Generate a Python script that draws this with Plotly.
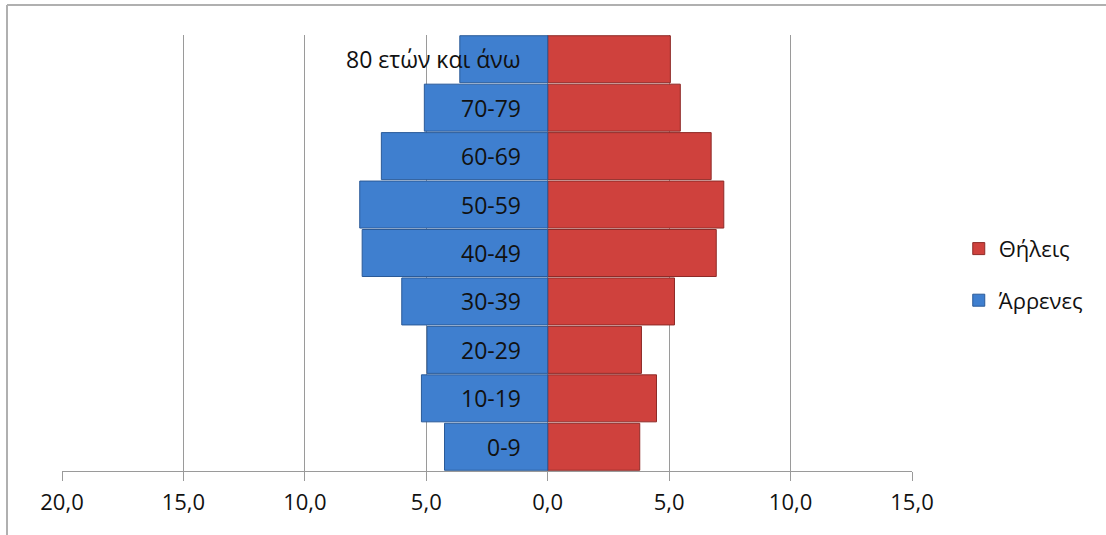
import plotly.graph_objects as go

categories = ["0-9", "10-19", "20-29", "30-39", "40-49", "50-59", "60-69", "70-79", "80 ετών και άνω"]
males = [4.25, 5.20, 4.97, 6.01, 7.64, 7.74, 6.85, 5.08, 3.62]
females = [3.79, 4.48, 3.86, 5.22, 6.94, 7.25, 6.73, 5.46, 5.05]
tick_vals = [-20, -15, -10, -5, 0, 5, 10, 15]
tick_text = ["20,0", "15,0", "10,0", "5,0", "0,0", "5,0", "10,0", "15,0"]

FONT = "Open Sans"

fig = go.Figure()
fig.add_trace(go.Bar(
    y=categories, x=females, orientation="h", name="Θήλεις",
    legendgroup="f",
    marker=dict(color="#cf413d", line=dict(color="#8e2a27", width=1)),
))
fig.add_trace(go.Bar(
    y=categories, x=[-v for v in males], orientation="h", name="Άρρενες",
    legendgroup="m",
    marker=dict(color="#3f7fcf", line=dict(color="#2a5a98", width=1)),
))

for c in categories:
    fig.add_annotation(x=-1.0, y=c, xref="x", yref="y", text=c, showarrow=False,
                       xanchor="right", yanchor="middle",
                       font=dict(family=FONT, size=23, color="#111111"))

# outer frame lines (left and top)
fig.add_shape(type="line", xref="paper", yref="paper", x0=-0.0647, x1=1.3, y0=1.0688, y1=1.0688,
              line=dict(color="#b0b0b0", width=2))
fig.add_shape(type="line", xref="paper", yref="paper", x0=-0.0647, x1=-0.0647, y0=1.0688, y1=-0.2,
              line=dict(color="#b0b0b0", width=2))

fig.update_layout(
    width=1106, height=535,
    margin=dict(l=62, r=194, t=35, b=64),
    paper_bgcolor="white", plot_bgcolor="white",
    barmode="relative", bargap=0.03,
    font=dict(family=FONT, color="#111111"),
    showlegend=True,
    legend=dict(x=1.055, y=0.45, xanchor="left", yanchor="middle",
                traceorder="grouped", tracegroupgap=20,
                font=dict(family=FONT, size=22, color="#111111"),
                itemwidth=30),
    xaxis=dict(range=[-20, 15], tickvals=tick_vals, ticktext=tick_text,
               showgrid=True, gridcolor="#9a9a9a", gridwidth=1,
               zeroline=True, zerolinecolor="#9a9a9a", zerolinewidth=1,
               showline=True, linecolor="#9a9a9a", linewidth=1,
               ticks="outside", ticklen=9, tickcolor="#9a9a9a",
               ticklabelstandoff=3,
               tickfont=dict(family=FONT, size=22, color="#111111")),
    yaxis=dict(showticklabels=False, showgrid=False, zeroline=False, showline=False,
               categoryorder="array", categoryarray=categories),
)

fig.write_html("out.html", config={"displayModeBar": False},
               post_script="document.body.style.margin='0';")
